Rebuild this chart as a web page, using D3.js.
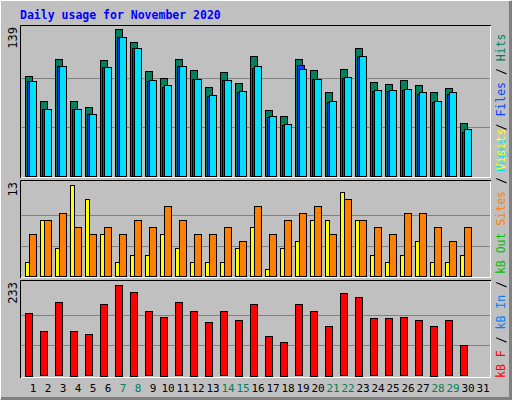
<!DOCTYPE html>
<html><head><meta charset="utf-8">
<script src="https://cdn.jsdelivr.net/npm/d3@7"></script>
<style>body{margin:0;background:#fff}</style></head>
<body><svg id="c" width="512" height="400"></svg>
<script>
const days = d3.range(1,32);
const hits  = [95,71,111,71,65,110,139,127,99,93,111,100,84,98,88,113,62,57,111,100,79,101,121,89,87,91,86,79,83,50,0];
const files = [90,63,104,63,59,103,131,121,91,86,104,92,77,91,80,104,57,49,101,92,71,94,113,81,81,82,79,71,79,44,0];
const pages = [90,63,104,63,59,103,131,121,90,84,104,92,76,91,79,102,56,48,105,92,70,93,113,80,80,81,78,70,78,42,0];
const visits= [2,8,4,13,11,6,2,3,3,6,4,2,2,2,4,7,1,4,5,8,8,12,8,3,2,3,5,2,2,3,0];
const sites = [6,8,9,7,6,7,6,8,7,10,8,6,6,7,5,10,6,8,9,10,6,11,8,7,6,9,9,7,5,7,0];
const kbytes= [161,113,187,115,105,184,233,215,164,151,187,166,138,164,143,184,102,87,182,166,128,210,202,146,146,149,141,128,141,77,0];
const weekend = [7,8,14,15,21,22,28,29];
const maxHits=139, maxVisits=13, maxKB=233;

const svg=d3.select("#c");
const mono="'DejaVu Sans Mono', monospace";
svg.append("rect").attr("width",512).attr("height",400).attr("fill","#c0c0c0");
// outer bevel
svg.append("path").attr("d","M0.5,399 V0.5 H511").attr("stroke","#fff").attr("fill","none");
svg.append("path").attr("d","M1,398.5 H510.5 V1").attr("stroke","#808080").attr("stroke-width",3).attr("fill","none");

svg.append("text").attr("x",20).attr("y",19).attr("font-family",mono).attr("font-weight","bold")
  .attr("font-size",11.5).attr("fill","#0000ff").text("Daily usage for November 2020");

const x=d3.scaleLinear().domain([1,31]).range([25,475]);
const panels=[{t:25,b:178,yb:176,yt:29,max:maxHits},{t:180,b:278,yb:276,yt:185,max:maxVisits},{t:280,b:378,yb:375.5,yt:284.5,max:maxKB}];
panels.forEach(p=>{
  p.y=d3.scaleLinear().domain([0,p.max]).range([p.yb,p.yt]);
  svg.append("path").attr("d",`M20.5,${p.b} V${p.t+0.5} H491`).attr("stroke","#000").attr("fill","none");
  svg.append("path").attr("d",`M21,${p.b-0.5} H490.5 V${p.t+1}`).attr("stroke","#fff").attr("fill","none");
  [1,2].forEach(k=>svg.append("line").attr("x1",21).attr("x2",490).attr("y1",Math.round(p.y(p.max*k/3))+0.5)
     .attr("y2",Math.round(p.y(p.max*k/3))+0.5).attr("stroke","#808080"));
  svg.append("text").attr("transform",`translate(17,${p.t+2}) rotate(-90)`).attr("text-anchor","end")
    .attr("font-family",mono).attr("font-size",12).attr("fill","#000").text(p.max);
});
function bars(data,panel,dx,w,color){
  const y=panel.y;
  svg.append("g").selectAll("rect").data(data.map((v,i)=>({v,d:days[i]})).filter(o=>o.v>0)).join("rect")
    .attr("x",o=>x(o.d)+dx+0.5).attr("width",w).attr("y",o=>Math.round(y(o.v))+0.5)
    .attr("height",o=>Math.round(panel.yb-y(o.v))).attr("fill",color).attr("stroke","#000");
}
bars(hits,panels[0],0,7,"#00805c");
bars(pages,panels[0],2,7,"#0040ff");
bars(files,panels[0],4,7,"#00e0ff");
bars(visits,panels[1],0,4,"#ffff00");
bars(sites,panels[1],4,7,"#ff8000");
bars(kbytes,panels[2],0,7,"#ff0000");

svg.append("g").selectAll("text").data(days).join("text")
  .attr("x",d=>x(d)+8).attr("y",392).attr("text-anchor","middle").attr("font-family",mono).attr("font-size",11)
  .attr("fill",d=>weekend.includes(d)?"#00805c":"#000").text(d=>d);

function sideLabel(yStart,parts){
  const t=svg.append("text").attr("transform",`translate(505,${yStart}) rotate(-90)`).attr("font-family",mono).attr("font-size",11.5);
  parts.forEach(([s,c])=>t.append("tspan").attr("fill",c).text(s));
}
sideLabel(172,[["Pages","#00e0ff"],[" / ","#000"],["Files","#0040ff"],[" / ","#000"],["Hits","#00805c"]]);
sideLabel(378,[["kB F","#ff0000"],[" / ","#000"],["kB In","#0080ff"],[" / ","#000"],["kB Out","#00c000"],[" Sites","#ff8000"],[" / ","#000"],["Visits","#ffff00"]]);
</script></body></html>
